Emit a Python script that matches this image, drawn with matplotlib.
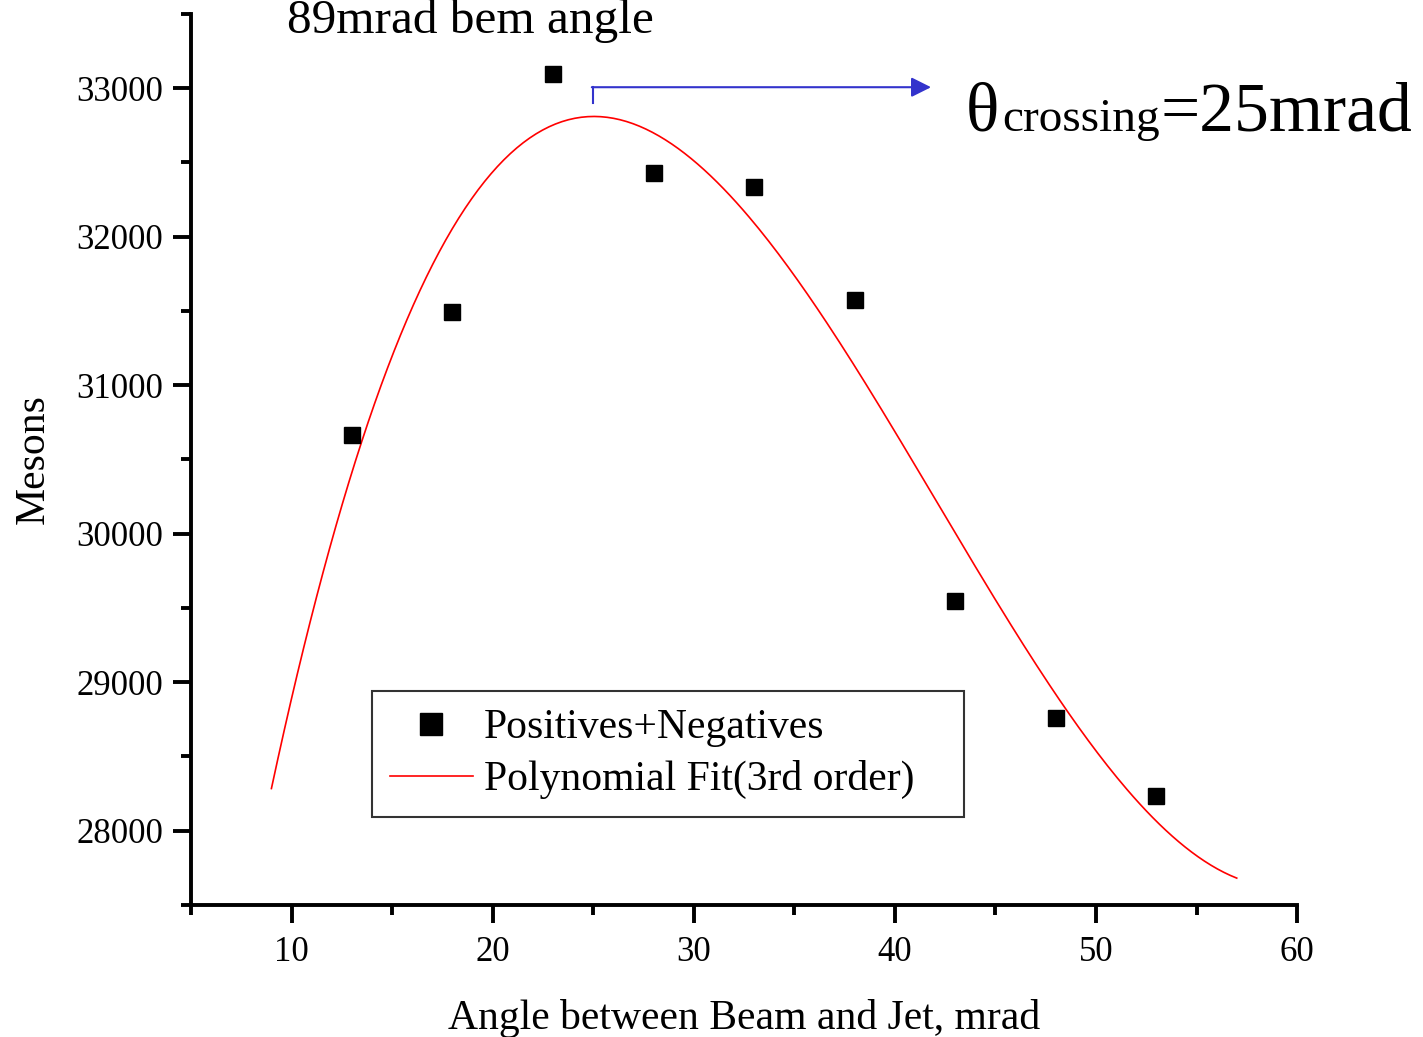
import matplotlib.pyplot as plt
import numpy as np

plt.rcParams['font.family'] = ['Liberation Serif', 'DejaVu Serif']

# data
angle = [13, 18, 23, 28, 33, 38, 43, 48, 53]
mesons = [30665, 31493, 33094, 32428, 32334, 31573, 29548, 28760, 28236]

# 3rd order polynomial fit, drawn from 9 to 57 mrad
coef = np.polyfit(angle, mesons, 3)
xfit = np.linspace(9, 57, 300)
yfit = np.polyval(coef, xfit)

fig = plt.figure(figsize=(14.23, 10.37), dpi=100)
ax = fig.add_axes([0.1342, 0.1273, 0.7773, 0.8592])

ax.plot(angle, mesons, 's', color='black', markersize=12, label='Positives+Negatives', zorder=3)
ax.plot(xfit, yfit, '-', color='red', linewidth=1.2, label='Polynomial Fit(3rd order)')

ax.set_xlim(5, 60)
ax.set_ylim(27500, 33500)
ax.set_xticks(np.arange(10, 61, 10))
ax.set_xticks(np.arange(5, 61, 5), minor=True)
ax.set_yticks(np.arange(28000, 33001, 1000))
ax.set_yticks(np.arange(27500, 33501, 500), minor=True)

for s in ['top', 'right']:
    ax.spines[s].set_visible(False)
for s in ['left', 'bottom']:
    ax.spines[s].set_linewidth(2.8)

ax.tick_params(which='major', direction='out', length=13, width=2.8, labelsize=25)
ax.tick_params(which='minor', direction='out', length=7, width=2.8)
ax.tick_params(axis='x', which='major', pad=9)
ax.tick_params(axis='y', which='major', pad=7)

ax.set_xlabel('Angle between Beam and Jet, mrad', fontsize=30, labelpad=22)
ax.set_ylabel('Mesons', fontsize=30, labelpad=17)

# arrow marking the maximum of the fit
ax.plot([25, 25], [32900, 33007], color='#3333cc', linewidth=1.5)
ax.annotate('', xy=(41.8, 33007), xytext=(24.93, 33007),
            arrowprops=dict(arrowstyle='-|>', color='#3333cc', lw=1.5,
                            mutation_scale=30, shrinkA=0, shrinkB=0))

fig.text(287 / 1423, 1 - 33 / 1037, '89mrad bem angle', fontsize=35.5, va='baseline')
fig.text(966 / 1423, 1 - 131 / 1037, 'θ', fontsize=50, va='baseline')
fig.text(1002 / 1423, 1 - 131 / 1037, 'crossing', fontsize=34, va='baseline')
fig.text(1160 / 1423, 1 - 131 / 1037, '=25mrad', fontsize=50, va='baseline')

leg = ax.legend(loc='lower left', bbox_to_anchor=(0.1637, 0.0988, 0.5353, 0.14),
                mode='expand', fontsize=30, markerscale=1.3,
                frameon=True, fancybox=False, edgecolor='black', handlelength=2.0,
                handletextpad=0.27, borderpad=0.42, labelspacing=0.32, borderaxespad=0)
leg.get_frame().set_linewidth(1.5)

fig.savefig('out.png', dpi=100)
